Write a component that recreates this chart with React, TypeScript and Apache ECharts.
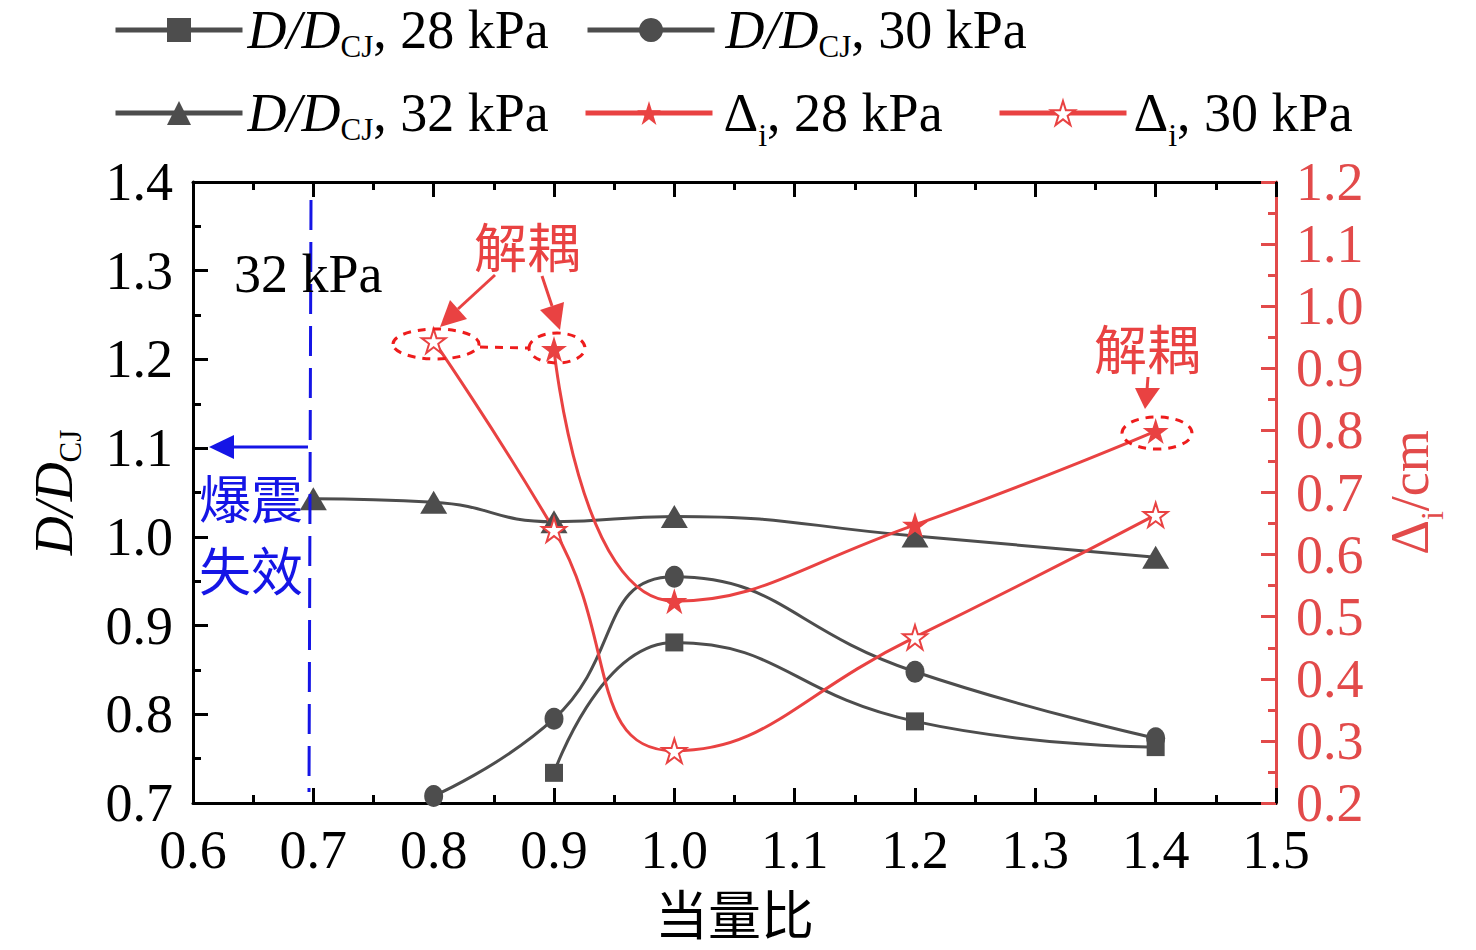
import React, { useEffect, useRef } from "react";
import * as echarts from "echarts";

// ---- data ----
const xTicks = [0.6, 1.5];
const leftRange = [0.7, 1.4];
const rightRange = [0.2, 1.2];

const phiD28 = [0.9, 1.0, 1.2, 1.4];
const valD28 = [0.734, 0.881, 0.792, 0.763];
const phiD30 = [0.8, 0.9, 1.0, 1.2, 1.4];
const valD30 = [0.708, 0.795, 0.955, 0.848, 0.773];
const phiD32 = [0.7, 0.8, 0.9, 1.0, 1.2, 1.4];
const valD32 = [1.043, 1.039, 1.017, 1.023, 1.001, 0.977];
const phiDel28 = [0.9, 1.0, 1.2, 1.4];
const valDel28 = [0.931, 0.525, 0.648, 0.799];
const phiDel30 = [0.8, 0.9, 1.0, 1.2, 1.4];
const valDel30 = [0.944, 0.64, 0.284, 0.467, 0.664];

const SERIF = "Liberation Serif, DejaVu Serif, serif";
const CJK = "Noto Sans CJK SC, sans-serif";
const GRAY = "#4d4d4d";
const RED = "#e94242";
const AXRED = "#e24a4a";
const BLUE = "#1515e6";
const STAR =
  "path://M50,0L61.23,34.55L97.55,34.55L68.17,55.9L79.39,90.45L50,69.1L20.61,90.45L31.83,55.9L2.45,34.55L38.77,34.55Z";

const zip = (xs: number[], ys: number[]) => xs.map((x, i) => [x, ys[i]]);

const FS = 54;
const mkRich = (color: string) => ({
  i: { fontFamily: SERIF, fontSize: FS, lineHeight: 54, fontStyle: "italic", color, verticalAlign: "middle" },
  n: { fontFamily: SERIF, fontSize: FS, lineHeight: 54, color, verticalAlign: "middle" },
  s: { fontFamily: SERIF, fontSize: 31, lineHeight: 54, color, verticalAlign: "top", padding: [28, 0, 0, 0] },
  si: { fontFamily: SERIF, fontSize: 32, lineHeight: 54, color, verticalAlign: "top", padding: [33, 0, 0, 0] },
  g2: { width: 2, lineHeight: 54 },
  g6: { width: 6, lineHeight: 54 },
});
const richBase = mkRich("#000");

const legendText: Record<string, string> = {
  p28: "{i|D}{i|/}{i|D}{s|CJ}{n|, 28 kPa}",
  p30: "{g6| }{i|D}{i|/}{i|D}{s|CJ}{n|, 30 kPa}",
  p32: "{i|D}{i|/}{i|D}{s|CJ}{n|, 32 kPa}",
  d28: "{g6| }{n|Δ}{si|i}{n|, 28 kPa}",
  d30: "{g2| }{n|Δ}{si|i}{n|, 30 kPa}",
};

const mkLegend = (name: string, left: number, top: number) => ({
  data: [name],
  left,
  top,
  padding: 0,
  orient: "horizontal",
  itemWidth: 127,
  itemHeight: 30,
  selectedMode: false,
  lineStyle: { width: 5 },
  formatter: (n: string) => legendText[n],
  textStyle: { rich: richBase, fontFamily: SERIF, fontSize: FS },
});

export default function App() {
  const ref = useRef<HTMLDivElement>(null);
  useEffect(() => {
    document.body.style.margin = "0";
    const chart = echarts.init(ref.current!, null, { renderer: "svg" });
    const axisBase = {
      type: "value",
      splitLine: { show: false },
      axisTick: { show: true, inside: true, length: 15, lineStyle: { width: 3 } },
      minorTick: { show: true, splitNumber: 2, length: 8, lineStyle: { width: 3 } },
    };
    const option: any = {
      animation: false,
      backgroundColor: "#fff",
      textStyle: { fontFamily: SERIF },
      grid: { left: 193, right: 200, top: 182, bottom: 147, containLabel: false, outerBoundsMode: "none" },
      legend: [
        mkLegend("p28", 113, 3),
        mkLegend("p30", 585, 3),
        mkLegend("p32", 113, 86),
        mkLegend("d28", 583, 86),
        mkLegend("d30", 997, 86),
      ],
      xAxis: [
        {
          ...axisBase,
          min: xTicks[0],
          max: xTicks[1],
          interval: 0.1,
          position: "bottom",
          axisLine: { show: true, lineStyle: { color: "#000", width: 3 } },
          axisTick: { ...axisBase.axisTick, lineStyle: { color: "#000", width: 3 } },
          minorTick: { ...axisBase.minorTick, lineStyle: { color: "#000", width: 3 } },
          axisLabel: {
            margin: 20,
            fontFamily: SERIF,
            fontSize: FS,
            color: "#000",
            formatter: (v: number) => v.toFixed(1),
          },
          name: "当量比",
          nameLocation: "middle",
          nameGap: 82,
          nameTextStyle: { fontFamily: CJK, fontSize: 53, color: "#000" },
        },
        {
          ...axisBase,
          min: xTicks[0],
          max: xTicks[1],
          interval: 0.1,
          position: "top",
          axisLine: { show: true, lineStyle: { color: "#000", width: 3 } },
          axisTick: { ...axisBase.axisTick, lineStyle: { color: "#000", width: 3 } },
          minorTick: { ...axisBase.minorTick, lineStyle: { color: "#000", width: 3 } },
          axisLabel: { show: false },
        },
      ],
      yAxis: [
        {
          ...axisBase,
          min: leftRange[0],
          max: leftRange[1],
          interval: 0.1,
          position: "left",
          axisLine: { show: true, lineStyle: { color: "#000", width: 3 } },
          axisTick: { ...axisBase.axisTick, lineStyle: { color: "#000", width: 3 } },
          minorTick: { ...axisBase.minorTick, lineStyle: { color: "#000", width: 3 } },
          axisLabel: {
            margin: 20,
            fontFamily: SERIF,
            fontSize: FS,
            color: "#000",
            formatter: (v: number) => v.toFixed(1),
          },
          name: "{i|D}{i|/}{i|D}{s|CJ}",
          nameLocation: "middle",
          nameGap: 112,
          nameTextStyle: { rich: richBase },
        },
        {
          ...axisBase,
          min: rightRange[0],
          max: rightRange[1],
          interval: 0.1,
          position: "right",
          axisLine: { show: true, lineStyle: { color: AXRED, width: 3 } },
          axisTick: { ...axisBase.axisTick, lineStyle: { color: AXRED, width: 3 } },
          minorTick: { ...axisBase.minorTick, lineStyle: { color: AXRED, width: 3 } },
          axisLabel: {
            margin: 20,
            fontFamily: SERIF,
            fontSize: FS,
            color: AXRED,
            formatter: (v: number) => v.toFixed(1),
          },
          name: "{n|Δ}{si|i}{n|/cm}",
          nameLocation: "middle",
          nameGap: 107,
          nameTextStyle: { rich: mkRich(AXRED) },
        },
      ],
      series: [
        {
          name: "p32",
          type: "line",
          smooth: true,
          yAxisIndex: 0,
          data: zip(phiD32, valD32),
          symbol: "triangle",
          symbolSize: [27, 23],
          lineStyle: { color: GRAY, width: 3 },
          itemStyle: { color: GRAY },
        },
        {
          name: "p30",
          type: "line",
          smooth: true,
          yAxisIndex: 0,
          data: zip(phiD30, valD30),
          symbol: "circle",
          symbolSize: [19, 22],
          lineStyle: { color: GRAY, width: 3 },
          itemStyle: { color: GRAY },
        },
        {
          name: "p28",
          type: "line",
          smooth: true,
          yAxisIndex: 0,
          data: zip(phiD28, valD28),
          symbol: "rect",
          symbolSize: 18,
          lineStyle: { color: GRAY, width: 3 },
          itemStyle: { color: GRAY },
        },
        {
          name: "d30",
          type: "line",
          smooth: true,
          yAxisIndex: 1,
          data: zip(phiDel30, valDel30),
          symbol: STAR,
          symbolSize: 24,
          lineStyle: { color: RED, width: 3 },
          itemStyle: { color: "#fff", borderColor: RED, borderWidth: 2 },
        },
        {
          name: "d28",
          type: "line",
          smooth: true,
          yAxisIndex: 1,
          data: zip(phiDel28, valDel28),
          symbol: STAR,
          symbolSize: 26,
          lineStyle: { color: RED, width: 3 },
          itemStyle: { color: RED },
        },
      ],
    };
    chart.setOption(option);

    const dashed = { stroke: "#ee1c1c", lineWidth: 3, lineDash: [8, 7], fill: "none" };
    const arrowStyle = { stroke: RED, lineWidth: 3 };
    const graphic: any[] = [
      // blue dashed vertical line at phi=0.7
      { type: "line", shape: { x1: 311, y1: 200, x2: 309, y2: 792 }, style: { stroke: BLUE, lineWidth: 3, lineDash: [30, 12] }, z: 5 },
      // blue arrow
      { type: "line", shape: { x1: 308, y1: 447, x2: 232, y2: 447 }, style: { stroke: BLUE, lineWidth: 3 }, z: 5 },
      { type: "polygon", shape: { points: [[209, 447], [234, 435], [234, 459]] }, style: { fill: BLUE }, z: 5 },
      { type: "text", style: { text: "爆震", x: 251, y: 496, fontFamily: CJK, fontSize: 52, fill: BLUE, align: "center", verticalAlign: "middle" }, z: 6 },
      { type: "text", style: { text: "失效", x: 251, y: 568, fontFamily: CJK, fontSize: 52, fill: BLUE, align: "center", verticalAlign: "middle" }, z: 6 },
      { type: "text", style: { text: "32 kPa", x: 234, y: 274, fontFamily: SERIF, fontSize: FS, fill: "#000", align: "left", verticalAlign: "middle" }, z: 6 },
      // top 解耦
      { type: "text", style: { text: "解耦", x: 527, y: 245, fontFamily: CJK, fontSize: 53, fill: RED, align: "center", verticalAlign: "middle" }, z: 6 },
      { type: "line", shape: { x1: 495, y1: 275, x2: 458, y2: 309 }, style: arrowStyle, z: 6 },
      { type: "polygon", shape: { points: [[440, 327], [467, 319], [450, 300]] }, style: { fill: RED }, z: 6 },
      { type: "line", shape: { x1: 542, y1: 276, x2: 552, y2: 306 }, style: arrowStyle, z: 6 },
      { type: "polygon", shape: { points: [[560, 330], [564, 302], [540, 310]] }, style: { fill: RED }, z: 6 },
      // dotted outlines
      { type: "ellipse", shape: { cx: 436, cy: 344, rx: 43, ry: 15 }, style: dashed, z: 4 },
      { type: "line", shape: { x1: 480, y1: 347, x2: 528, y2: 348 }, style: dashed, z: 4 },
      { type: "ellipse", shape: { cx: 557, cy: 348, rx: 28, ry: 15 }, style: dashed, z: 4 },
      // right 解耦
      { type: "text", style: { text: "解耦", x: 1147, y: 347, fontFamily: CJK, fontSize: 53, fill: RED, align: "center", verticalAlign: "middle" }, z: 6 },
      { type: "line", shape: { x1: 1148, y1: 377, x2: 1147, y2: 390 }, style: arrowStyle, z: 6 },
      { type: "polygon", shape: { points: [[1145, 409], [1135, 388], [1160, 388]] }, style: { fill: RED }, z: 6 },
      { type: "ellipse", shape: { cx: 1157, cy: 433, rx: 35, ry: 16 }, style: dashed, z: 4 },
    ];
    chart.setOption({ graphic });
    return () => chart.dispose();
  }, []);
  return <div ref={ref} style={{ width: 1476, height: 950 }} />;
}
